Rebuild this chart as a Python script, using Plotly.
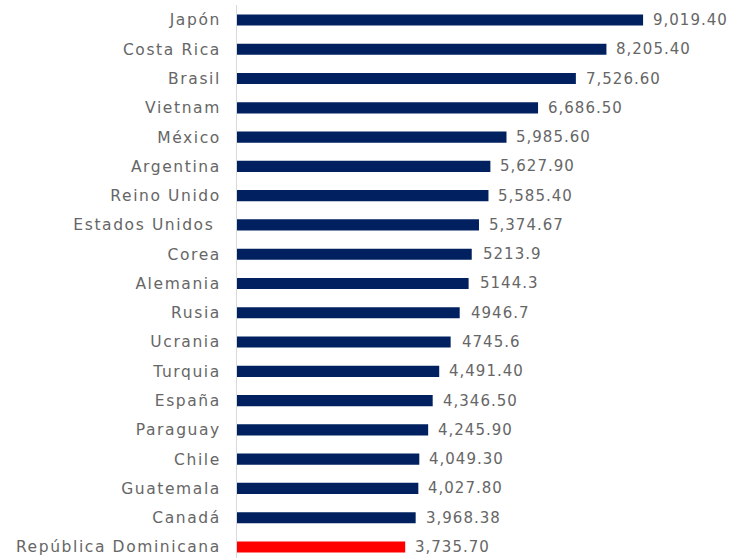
import plotly.graph_objects as go

countries = ["Japón", "Costa Rica", "Brasil", "Vietnam", "México", "Argentina",
             "Reino Unido", "Estados Unidos ", "Corea", "Alemania", "Rusia", "Ucrania",
             "Turquia", "España", "Paraguay", "Chile", "Guatemala", "Canadá",
             "República Dominicana"]
values = [9019.40, 8205.40, 7526.60, 6686.50, 5985.60, 5627.90, 5585.40, 5374.67,
          5213.9, 5144.3, 4946.7, 4745.6, 4491.40, 4346.50, 4245.90, 4049.30,
          4027.80, 3968.38, 3735.70]
value_labels = ["9,019.40", "8,205.40", "7,526.60", "6,686.50", "5,985.60", "5,627.90",
                "5,585.40", "5,374.67", "5213.9", "5144.3", "4946.7", "4745.6",
                "4,491.40", "4,346.50", "4,245.90", "4,049.30", "4,027.80", "3,968.38",
                "3,735.70"]

NAVY = "#002060"
RED = "#FF0000"
colors = [RED if c.startswith("República") else NAVY for c in countries]
FONT = "DejaVu Sans"
TXT = "#666666"

fig = go.Figure(go.Bar(
    x=values, y=countries, orientation="h",
    marker=dict(color=colors, line=dict(width=0)),
    width=0.38,
    hoverinfo="skip",
))

for c, v, t in zip(countries, values, value_labels):
    fig.add_annotation(x=v, y=c, text=t, showarrow=False, xanchor="left",
                       xshift=12, font=dict(family=FONT, size=15, color=TXT))

fig.update_layout(
    width=730, height=558,
    margin=dict(l=237, r=0, t=5, b=0),
    paper_bgcolor="white", plot_bgcolor="white",
    showlegend=False,
    xaxis=dict(range=[0, 10950], visible=False, showgrid=False, zeroline=False),
    yaxis=dict(range=[18.376, -0.512], showgrid=False, zeroline=False,
               showline=True, linecolor="#d9d9d9", linewidth=1,
               ticks="", ticklabelstandoff=12,
               tickfont=dict(family=FONT, size=15.5, color=TXT)),
)

post = """
document.body.style.margin='0';
document.querySelectorAll('.ytick text').forEach(function(t){t.style.letterSpacing='1.6px';});
document.querySelectorAll('.annotation-text').forEach(function(t){t.style.letterSpacing='1px';});
"""
fig.write_html("out.html", post_script=post, config={"displayModeBar": False})
